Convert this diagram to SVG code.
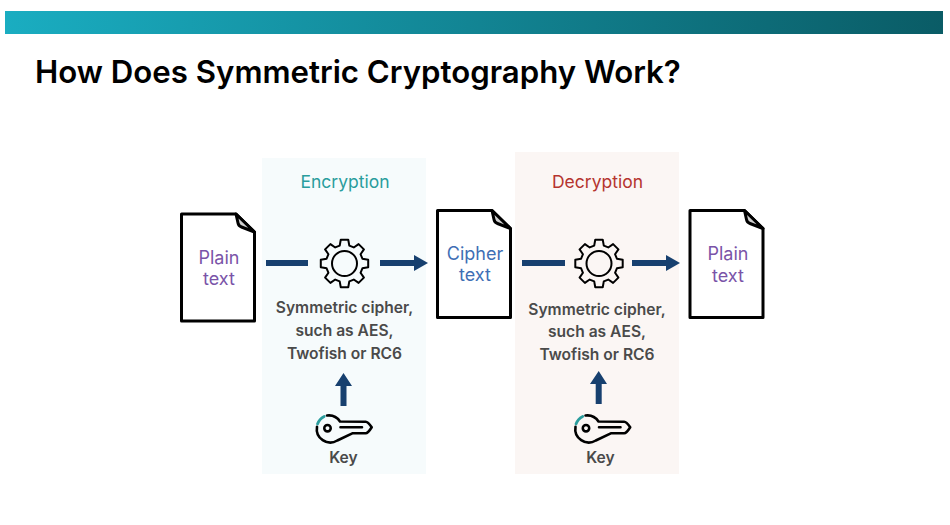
<svg xmlns="http://www.w3.org/2000/svg" xmlns:xlink="http://www.w3.org/1999/xlink" width="950" height="525" viewBox="0 0 950 525">
<style>
text{font-family:Inter,"Liberation Sans",sans-serif;text-anchor:middle}
.doc{fill:#fff;stroke:#000;stroke-width:3;stroke-linejoin:round}
.fold{fill:#d0d0d0;stroke:#000;stroke-width:3;stroke-linejoin:round}
.lbl{font-size:18px}
.plain{fill:#7a54a8}
.desc{font-size:15.6px;font-weight:600;fill:#4a4a4a}
.head{font-size:17.5px}
.ln{stroke:#17406f;stroke-width:6;fill:none}
.ah{fill:#17406f}
.gear{fill:none;stroke:#000;stroke-width:2;stroke-linejoin:round}
.k{fill:none;stroke:#000;stroke-width:2.6;stroke-linecap:round;stroke-linejoin:round}
</style>
<defs>
<linearGradient id="bar" x1="0" y1="0" x2="1" y2="0"><stop offset="0" stop-color="#1aadc1"/><stop offset="1" stop-color="#0a5c66"/></linearGradient>
<g id="gearI"><path class="gear" d="M-4.8,-17.9L-3.75,-23.7L3.75,-23.7L4.8,-17.9L9.26,-16.05L14.1,-19.41L19.41,-14.1L16.05,-9.26L17.9,-4.8L23.7,-3.75L23.7,3.75L17.9,4.8L16.05,9.26L19.41,14.1L14.1,19.41L9.26,16.05L4.8,17.9L3.75,23.7L-3.75,23.7L-4.8,17.9L-9.26,16.05L-14.1,19.41L-19.41,14.1L-16.05,9.26L-17.9,4.8L-23.7,3.75L-23.7,-3.75L-17.9,-4.8L-16.05,-9.26L-19.41,-14.1L-14.1,-19.41L-9.26,-16.05Z"/><circle class="gear" r="12.5"/></g>
<g id="keyI"><path class="k" d="M-2,-13.500A13.500,13.500 0 0 1 11,-7.5L36.7,-7.3Q39,-7.3 42.7,-1.7Q39,4.3 36.7,4.3L23.3,4.3L8.3,11.500A13.500,13.500 0 0 1 -12,-2.3M11.5,-1.7L33,-1.7"/><path d="M-11.500,-5A13.500,13.500 0 0 1 -4.800,-12.600" fill="none" stroke="#2a9d9d" stroke-width="2.8" stroke-linecap="round"/><circle class="k" cx="-1.5" cy="-0.8" r="3.2"/></g>
<g id="docI"><path class="doc" d="M0,0H54.500L73,18V107H0Z"/><path class="fold" d="M54.500,0L73,18L60,13Q57,12 56.500,9Z"/></g>
</defs>
<rect width="950" height="525" fill="#fff"/>
<rect id="topbar" x="5" y="11" width="938" height="23" fill="url(#bar)"/>
<text x="35" y="83" style="text-anchor:start;font-size:31.2px;font-weight:600" fill="#000">How Does Symmetric Cryptography Work?</text>
<rect id="enc-panel" x="262" y="158" width="164" height="316" fill="#f6fbfc"/>
<rect id="dec-panel" x="515" y="152" width="164" height="322" fill="#fbf6f4"/>
<text x="345" y="188" class="head" fill="#2a9d9d">Encryption</text>
<text x="597.500" y="188" class="head" fill="#b5342f">Decryption</text>
<g id="connectors">
<path class="ln" d="M266,263H308M380,263H416M522,263H565M632,263H668M343.500,406V384M598.700,404V382"/>
<path class="ah" d="M414,255L428,263L414,271ZM666,255L680,263L666,271ZM335,386L343.500,373L352,386ZM590,384L598.700,371L607,384Z"/>
</g>
<g id="plain1"><use href="#docI" xlink:href="#docI" x="181.500" y="214"/><text x="219" y="264" class="lbl plain" transform="translate(0,0)">Plain</text><text x="219" y="285" class="lbl plain">text</text></g>
<g id="cipher"><use href="#docI" xlink:href="#docI" x="437.500" y="210.500"/><text x="475" y="260" class="lbl" fill="#3f6fb5">Cipher</text><text x="475" y="281" class="lbl" fill="#3f6fb5">text</text></g>
<g id="plain2"><use href="#docI" xlink:href="#docI" x="690" y="210.500"/><text x="728" y="260" class="lbl plain">Plain</text><text x="728" y="282" class="lbl plain">text</text></g>
<g id="enc-gear"><use href="#gearI" xlink:href="#gearI" x="344.500" y="263.500"/></g>
<g id="dec-gear"><use href="#gearI" xlink:href="#gearI" x="599" y="263.500"/></g>
<g id="enc-cipher"><text x="344.500" y="313" class="desc">Symmetric cipher,</text><text x="344.500" y="336" class="desc">such as AES,</text><text x="344.500" y="359" class="desc">Twofish or RC6</text></g>
<g id="dec-cipher"><text x="597" y="315" class="desc">Symmetric cipher,</text><text x="597" y="337" class="desc">such as AES,</text><text x="597" y="360" class="desc">Twofish or RC6</text></g>
<g id="enc-key"><use href="#keyI" xlink:href="#keyI" x="329" y="429"/><text x="343.500" y="463" class="desc">Key</text></g>
<g id="dec-key"><use href="#keyI" xlink:href="#keyI" x="587.500" y="429"/><text x="600.500" y="463" class="desc">Key</text></g>
</svg>
